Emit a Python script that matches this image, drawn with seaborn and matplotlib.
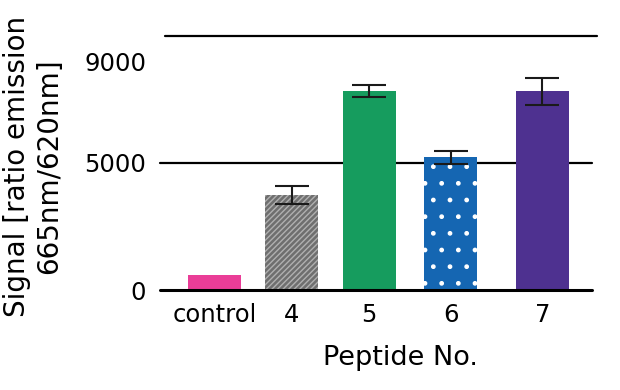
import matplotlib
matplotlib.use("Agg")
import matplotlib.pyplot as plt
import seaborn as sns
import pandas as pd

categories = ["control", "4", "5", "6", "7"]
signal = [600, 3740, 7830, 5220, 7830]
errors = [0, 350, 230, 260, 530]
colors = ["#ea3d97", "#6f6f6f", "#169c5e", "#1566b2", "#4e3190"]
yticks = [0, 5000, 9000]
gridlines = [0, 5000, 10000]

# layout positions of bars (irregular spacing as in reference)
positions = [0, 1, 2.01, 3.07, 4.26]

sns.set_style("white")
plt.rcParams['font.family'] = ['DejaVu Sans']
plt.rcParams['hatch.linewidth'] = 1.0
plt.rcParams['text.color'] = 'black'

df = pd.DataFrame({"pos": positions, "signal": signal, "cat": categories})

fig = plt.figure(figsize=(6.2, 3.9), dpi=100)
ax = fig.add_axes([160/620, 100/390, 437/620, 260.4/390])

sns.barplot(data=df, x="pos", y="signal", hue="cat", palette=colors,
            native_scale=True, width=0.69, errorbar=None, legend=False,
            linewidth=0, ax=ax, dodge=False, saturation=1)

hatches = [None, "//////", None, ".", None]
edgecols = [None, "#b0b0b0", None, "white", None]
for p, h, ec in zip(ax.patches, hatches, edgecols):
    if h:
        p.set_hatch(h)
        p.set_edgecolor(ec)
        p.set_linewidth(0)

ax.errorbar(positions[1:], signal[1:], yerr=errors[1:], fmt="none",
            ecolor="#1a1a1a", elinewidth=1.5, capsize=12.5, capthick=1.5, zorder=5)

ax.set_xlim(-0.71, 4.97)
ax.set_ylim(0, 10250)
for g in gridlines:
    if g == 10000:
        ax.axhline(g, xmin=5/437, xmax=1, color="black", lw=1.6, zorder=0, clip_on=False)
    elif g == 0:
        ax.axhline(g, xmin=0, xmax=432/437, color="black", lw=2.2, zorder=6, clip_on=False)
    else:
        ax.axhline(g, xmin=0, xmax=432/437, color="black", lw=1.6, zorder=0.5, clip_on=False)

ax.set_xticks(positions)
ax.set_xticklabels(categories)
ax.set_yticks(yticks)
ax.set_yticklabels([str(t) for t in yticks])
ax.tick_params(axis="both", length=0, labelsize=17.5, colors="black")
ax.tick_params(axis="x", pad=9)
ax.tick_params(axis="y", pad=10)
for s in ax.spines.values():
    s.set_visible(False)
ax.set_xlabel("")
ax.set_ylabel("")

fig.text(400/620, 1 - 358/390, "Peptide No.", ha="center", va="center", fontsize=19.5, color="black")
fig.text(33/620, 1 - 166/390, "Signal [ratio emission\n665nm/620nm]", rotation=90,
         ha="center", va="center", multialignment="center", fontsize=20, linespacing=1.15,
         color="black")

fig.savefig("out.png", dpi=100)
